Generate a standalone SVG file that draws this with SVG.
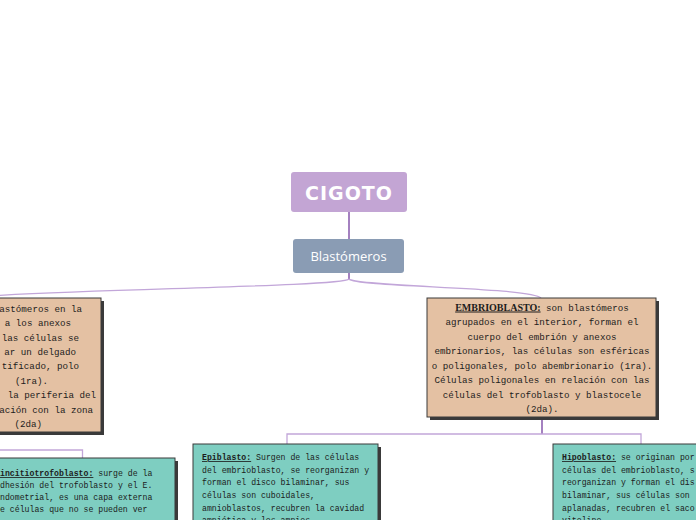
<svg xmlns="http://www.w3.org/2000/svg" width="696" height="520" viewBox="0 0 696 520">
<style>
.conn{fill:none;stroke:#c2a6d9;stroke-width:1.3}
.conn-dark{fill:none;stroke:#8657ab;stroke-width:1.5}
.shadow{fill:#3a3a3a}
.salmon{fill:#e4c1a3;stroke:#3a3a3a;stroke-width:1}
.teal{fill:#7ecec1;stroke:#3a3a3a;stroke-width:1}
.t9{font-family:"Liberation Mono","DejaVu Sans Mono",monospace;font-size:9.2px;fill:#1c1c1c}
.t8{font-family:"Liberation Mono","DejaVu Sans Mono",monospace;font-size:8.2px;fill:#1c1c1c}
.b{font-weight:bold;text-decoration:underline}
.serifb{font-family:"Liberation Serif","Times New Roman",serif;font-weight:bold;font-size:10px;text-decoration:underline}
</style>
<rect width="696" height="520" fill="#ffffff"/>
<g id="connectors">
  <line class="conn-dark" x1="349" y1="212" x2="349" y2="239"/>
  <path class="conn-dark" d="M349,273 V280"/>
  <path class="conn" d="M349,279 C355,287 530,287 541,298"/>
  <path class="conn" d="M349,279 C343,287 60,289 -40,298"/>
  <path class="conn-dark" d="M542,418 V434"/>
  <path class="conn" d="M287,444 V434 H641 V444"/>
  <path class="conn" d="M-10,450 H82.5 V458"/>
</g>
<g id="cigoto">
  <rect x="291" y="172" width="116" height="40" rx="3" fill="#c3a5d4"/>
  <text x="349" y="199.5" text-anchor="middle" font-family="'DejaVu Sans',Verdana,sans-serif" font-weight="bold" font-size="19" letter-spacing="1" fill="#ffffff">CIGOTO</text>
</g>
<g id="blastomeros">
  <rect x="293" y="239" width="111" height="34" rx="3" fill="#8a9cb4"/>
  <text x="348.5" y="261" text-anchor="middle" font-family="'Open Sans','Noto Sans',sans-serif" font-size="13" fill="#ffffff">Blastómeros</text>
</g>
<g id="trofoblasto">
  <rect class="shadow" x="-20" y="301" width="124" height="134"/>
  <rect class="salmon" x="-24" y="298" width="125" height="134"/>
  <g class="t9" text-anchor="end">
    <text x="82" y="311.5">astómeros en la</text>
    <text x="71" y="326">a los anexos</text>
    <text x="79" y="340.5">las células se</text>
    <text x="76" y="355">ar un delgado</text>
    <text x="79" y="369">tificado, polo</text>
    <text x="48" y="383.5">(1ra).</text>
    <text x="96" y="398">la periferia del</text>
    <text x="93" y="412.5">ación con la zona</text>
    <text x="42" y="427">(2da)</text>
  </g>
</g>
<g id="embrioblasto">
  <rect class="shadow" x="430" y="301" width="229" height="119"/>
  <rect class="salmon" x="427" y="298" width="229" height="119"/>
  <g class="t9" text-anchor="middle">
    <text x="542" y="310.5"><tspan class="serifb">EMBRIOBLASTO:</tspan> son blastómeros</text>
    <text x="542" y="325">agrupados en el interior, forman el</text>
    <text x="542" y="339.5">cuerpo del embrión y anexos</text>
    <text x="542" y="354">embrionarios, las células son esféricas</text>
    <text x="542" y="368.5">o poligonales, polo abembrionario (1ra).</text>
    <text x="542" y="383">Células poligonales en relación con las</text>
    <text x="542" y="397.5">células del trofoblasto y blastocele</text>
    <text x="542" y="412">(2da).</text>
  </g>
</g>
<g id="sincitiotrofoblasto">
  <rect class="shadow" x="-20" y="461" width="198" height="70"/>
  <rect class="teal" x="-24" y="458" width="199" height="70"/>
  <g class="t8">
    <text x="0" y="476"><tspan class="b">incitiotrofoblasto:</tspan> surge de la</text>
    <text x="0" y="488">dhesión del trofoblasto y el E.</text>
    <text x="0" y="500">ndometrial, es una capa externa</text>
    <text x="0" y="512">e células que no se pueden ver</text>
  </g>
</g>
<g id="epiblasto">
  <rect class="shadow" x="196" y="447" width="185" height="90"/>
  <rect class="teal" x="193" y="444" width="185" height="90"/>
  <g class="t8">
    <text x="202" y="460"><tspan class="b">Epiblasto:</tspan> Surgen de las células</text>
    <text x="202" y="472.5">del embrioblasto, se reorganizan y</text>
    <text x="202" y="485">forman el disco bilaminar, sus</text>
    <text x="202" y="498">células son cuboidales,</text>
    <text x="202" y="510.5">amnioblastos, recubren la cavidad</text>
    <text x="202" y="523">amniótica y los amnios</text>
  </g>
</g>
<g id="hipoblasto">
  <rect class="shadow" x="556" y="447" width="160" height="90"/>
  <rect class="teal" x="553" y="444" width="160" height="90"/>
  <g class="t8">
    <text x="562" y="460"><tspan class="b">Hipoblasto:</tspan> se originan por</text>
    <text x="562" y="472.5">células del embrioblasto, s</text>
    <text x="562" y="485">reorganizan y forman el dis</text>
    <text x="562" y="498">bilaminar, sus células son</text>
    <text x="562" y="510.5">aplanadas, recubren el saco</text>
    <text x="562" y="523">vitelino</text>
  </g>
</g>
</svg>
